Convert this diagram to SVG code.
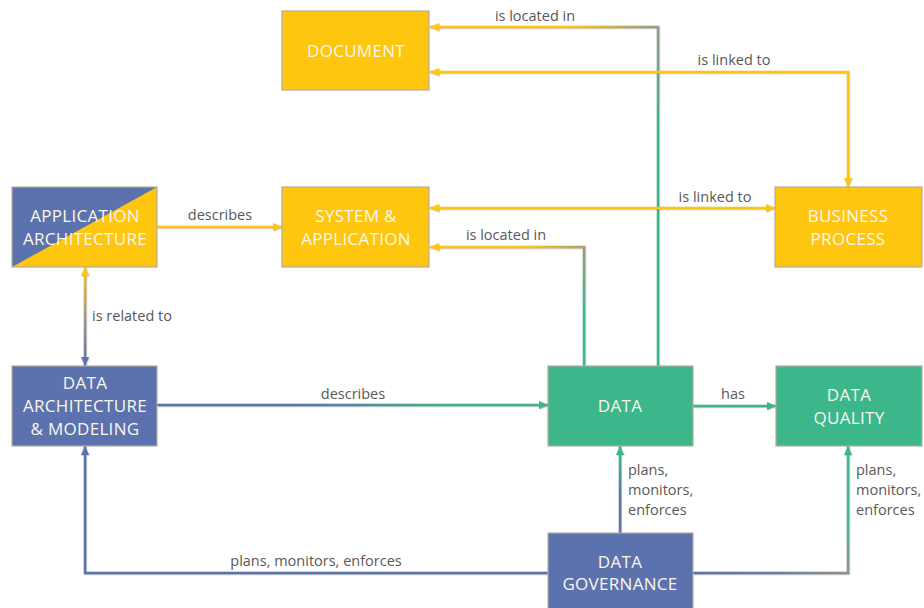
<svg xmlns="http://www.w3.org/2000/svg" width="924" height="608" viewBox="0 0 924 608">
  <style>
    .box { stroke: #b4ad9c; stroke-width: 1.2; }
    .yel { fill: #FEC60F; }
    .blu { fill: #5B72AE; }
    .grn { fill: #3CB68B; }
    .nt { font-family: "Open Sans", "Liberation Sans", sans-serif; font-size: 17px; letter-spacing: 0.3px; fill: #fbf7ea; text-anchor: middle; }
    .lt { font-family: "Open Sans", "Liberation Sans", sans-serif; font-size: 14.5px; fill: #595959; }
    .c { fill: none; stroke-width: 2.5; }
    .cy { stroke: #FEC60F; }
    .cb { stroke: #5B72AE; }
    .cg { stroke: #3CB68B; }
  </style>
  <defs>
    <marker id="ay" markerUnits="userSpaceOnUse" markerWidth="10" markerHeight="10" refX="9" refY="4" orient="auto-start-reverse">
      <path d="M0,0 L9,4 L0,8 z" fill="#FEC60F"/>
    </marker>
    <marker id="ab" markerUnits="userSpaceOnUse" markerWidth="10" markerHeight="10" refX="9" refY="4" orient="auto-start-reverse">
      <path d="M0,0 L9,4 L0,8 z" fill="#5B72AE"/>
    </marker>
    <marker id="ag" markerUnits="userSpaceOnUse" markerWidth="10" markerHeight="10" refX="9" refY="4" orient="auto-start-reverse">
      <path d="M0,0 L9,4 L0,8 z" fill="#3CB68B"/>
    </marker>
    <filter id="sh" x="-5%" y="-5%" width="110%" height="110%">
      <feDropShadow dx="0.6" dy="0.6" stdDeviation="0.6" flood-color="#808080" flood-opacity="0.6"/>
    </filter>
    <linearGradient id="gDocH" gradientUnits="userSpaceOnUse" x1="430" y1="0" x2="658" y2="0">
      <stop offset="0" stop-color="#FEC60F"/>
      <stop offset="0.6" stop-color="#FEC60F"/>
      <stop offset="1" stop-color="#9a9a8c"/>
    </linearGradient>
    <linearGradient id="gDocV" gradientUnits="userSpaceOnUse" x1="0" y1="27" x2="0" y2="366">
      <stop offset="0" stop-color="#9a9a8c"/>
      <stop offset="0.3" stop-color="#3CB68B"/>
      <stop offset="1" stop-color="#3CB68B"/>
    </linearGradient>
    <linearGradient id="gSysH" gradientUnits="userSpaceOnUse" x1="430" y1="0" x2="584" y2="0">
      <stop offset="0" stop-color="#FEC60F"/>
      <stop offset="0.6" stop-color="#FEC60F"/>
      <stop offset="1" stop-color="#b0a070"/>
    </linearGradient>
    <linearGradient id="gSysV" gradientUnits="userSpaceOnUse" x1="0" y1="247" x2="0" y2="366">
      <stop offset="0" stop-color="#a09a80"/>
      <stop offset="0.55" stop-color="#3CB68B"/>
      <stop offset="1" stop-color="#3CB68B"/>
    </linearGradient>
    <linearGradient id="gRel" gradientUnits="userSpaceOnUse" x1="0" y1="267" x2="0" y2="366">
      <stop offset="0" stop-color="#FEC60F"/>
      <stop offset="0.5" stop-color="#a09a80"/>
      <stop offset="1" stop-color="#5B72AE"/>
    </linearGradient>
    <linearGradient id="gDesc" gradientUnits="userSpaceOnUse" x1="157" y1="0" x2="548" y2="0">
      <stop offset="0" stop-color="#5B72AE"/>
      <stop offset="0.35" stop-color="#5B72AE"/>
      <stop offset="0.75" stop-color="#3CB68B"/>
      <stop offset="1" stop-color="#3CB68B"/>
    </linearGradient>
    <linearGradient id="gGov" gradientUnits="userSpaceOnUse" x1="0" y1="533" x2="0" y2="446">
      <stop offset="0" stop-color="#5B72AE"/>
      <stop offset="0.4" stop-color="#5B72AE"/>
      <stop offset="0.9" stop-color="#3CB68B"/>
    </linearGradient>
    <linearGradient id="gDqH" gradientUnits="userSpaceOnUse" x1="693" y1="0" x2="848" y2="0">
      <stop offset="0" stop-color="#5B72AE"/>
      <stop offset="0.5" stop-color="#6d7ca0"/>
      <stop offset="1" stop-color="#8c948f"/>
    </linearGradient>
    <linearGradient id="gDqV" gradientUnits="userSpaceOnUse" x1="0" y1="573" x2="0" y2="446">
      <stop offset="0" stop-color="#8c948f"/>
      <stop offset="0.45" stop-color="#3CB68B"/>
      <stop offset="1" stop-color="#3CB68B"/>
    </linearGradient>
  </defs>

  <rect width="924" height="608" fill="#ffffff"/>

  <!-- connectors -->
  <g id="connectors" filter="url(#sh)">
    <path class="c" stroke="url(#gDocV)" d="M658,366 V27"/>
    <path class="c" stroke="url(#gDocH)" d="M659.2,27 H430" marker-end="url(#ay)"/>
    <path class="c cy" d="M430,72 H848 V187" marker-start="url(#ay)" marker-end="url(#ay)"/>
    <path class="c cy" d="M430,208 H775" marker-start="url(#ay)" marker-end="url(#ay)"/>
    <path class="c" stroke="url(#gSysV)" d="M584,366 V247"/>
    <path class="c" stroke="url(#gSysH)" d="M585.2,247 H430" marker-end="url(#ay)"/>
    <path class="c cy" d="M157,227 H282" marker-end="url(#ay)"/>
    <path class="c" stroke="url(#gRel)" d="M85,267 V366" marker-start="url(#ay)" marker-end="url(#ab)"/>
    <path class="c" stroke="url(#gDesc)" d="M157,405 H548" marker-end="url(#ag)"/>
    <path class="c cg" d="M693,406 H776" marker-end="url(#ag)"/>
    <path class="c" stroke="url(#gGov)" d="M620,533 V446" marker-end="url(#ag)"/>
    <path class="c" stroke="url(#gDqH)" d="M693,573 H849.2"/>
    <path class="c" stroke="url(#gDqV)" d="M848,573 V446" marker-end="url(#ag)"/>
    <path class="c cb" d="M548,573 H85 V446" marker-end="url(#ab)"/>
  </g>

  <!-- connector labels -->
  <g id="labels">
    <text class="lt" x="535" y="21" text-anchor="middle">is located in</text>
    <text class="lt" x="734" y="65" text-anchor="middle">is linked to</text>
    <text class="lt" x="715" y="202" text-anchor="middle">is linked to</text>
    <text class="lt" x="506" y="240" text-anchor="middle">is located in</text>
    <text class="lt" x="220" y="220" text-anchor="middle">describes</text>
    <text class="lt" x="92" y="321">is related to</text>
    <text class="lt" x="353" y="399" text-anchor="middle">describes</text>
    <text class="lt" x="733" y="399" text-anchor="middle">has</text>
    <text class="lt" x="628" y="475">plans,</text>
    <text class="lt" x="628" y="495">monitors,</text>
    <text class="lt" x="628" y="515">enforces</text>
    <text class="lt" x="856" y="475">plans,</text>
    <text class="lt" x="856" y="495">monitors,</text>
    <text class="lt" x="856" y="515">enforces</text>
    <text class="lt" x="316" y="566" text-anchor="middle">plans, monitors, enforces</text>
  </g>

  <!-- nodes -->
  <g id="document">
    <rect class="box yel" x="282" y="11" width="147" height="79"/>
    <text class="nt" x="356" y="57">DOCUMENT</text>
  </g>
  <g id="system-application">
    <rect class="box yel" x="282" y="187" width="147" height="80"/>
    <text class="nt" x="356" y="222">SYSTEM &amp;</text>
    <text class="nt" x="356" y="245">APPLICATION</text>
  </g>
  <g id="application-architecture">
    <rect class="yel" x="12" y="187" width="145" height="80"/>
    <polygon class="blu" points="12,187 157,187 12,267"/>
    <rect class="box" x="12" y="187" width="145" height="80" fill="none"/>
    <text class="nt" x="85" y="222">APPLICATION</text>
    <text class="nt" x="85" y="245">ARCHITECTURE</text>
  </g>
  <g id="business-process">
    <rect class="box yel" x="775" y="187" width="147" height="80"/>
    <text class="nt" x="848" y="222">BUSINESS</text>
    <text class="nt" x="848" y="245">PROCESS</text>
  </g>
  <g id="data-architecture">
    <rect class="box blu" x="12" y="366" width="145" height="80"/>
    <text class="nt" x="85" y="389">DATA</text>
    <text class="nt" x="85" y="412">ARCHITECTURE</text>
    <text class="nt" x="85" y="435">&amp; MODELING</text>
  </g>
  <g id="data">
    <rect class="box grn" x="548" y="366" width="145" height="80"/>
    <text class="nt" x="620" y="412">DATA</text>
  </g>
  <g id="data-quality">
    <rect class="box grn" x="776" y="366" width="146" height="80"/>
    <text class="nt" x="849" y="401">DATA</text>
    <text class="nt" x="849" y="424">QUALITY</text>
  </g>
  <g id="data-governance">
    <rect class="box blu" x="548" y="533" width="145" height="80"/>
    <text class="nt" x="620" y="568">DATA</text>
    <text class="nt" x="620" y="590">GOVERNANCE</text>
  </g>
</svg>
